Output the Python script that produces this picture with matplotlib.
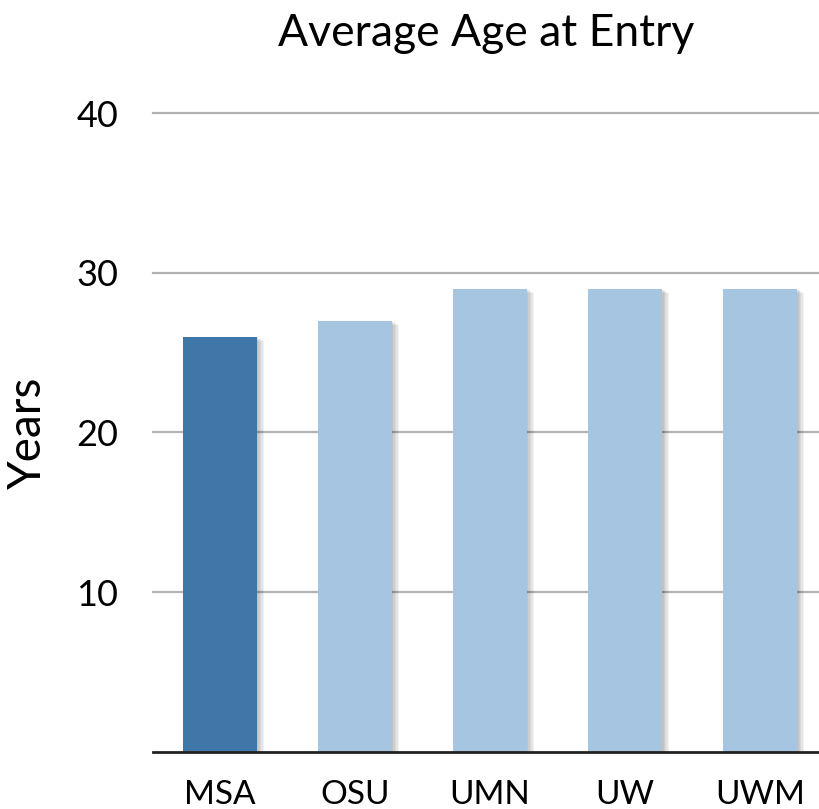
import matplotlib
matplotlib.use('Agg')
import matplotlib.pyplot as plt
import matplotlib.patheffects as pe

schools = ['MSA', 'OSU', 'UMN', 'UW', 'UWM']
avg_age = [26, 27, 29, 29, 29]
bar_colors = ['#3f78a8', '#a5c5e0', '#a5c5e0', '#a5c5e0', '#a5c5e0']
yticks = [10, 20, 30, 40]

plt.rcParams['font.family'] = ['Lato', 'DejaVu Sans']

fig = plt.figure(figsize=(8.19, 8.09), dpi=100)
ax = fig.add_axes([0.1868, 0.0705, 0.8132, 0.7898])

bars = ax.bar(range(len(schools)), avg_age, width=0.55, color=bar_colors, zorder=3)
# soft drop shadow made of a few faint offset copies
shadow = [pe.SimplePatchShadow(offset=(o, -o * 0.6), shadow_rgbFace='#000000', alpha=0.05)
          for o in (1, 2, 3, 4, 5)]
for b in bars:
    b.set_path_effects(shadow + [pe.Normal()])

ax.set_xlim(-0.496, 4.437)
ax.set_ylim(0, 40)
ax.set_yticks(yticks)
ax.set_yticklabels([str(v) for v in yticks], fontsize=26)
ax.set_xticks(range(len(schools)))
ax.set_xticklabels(schools, fontsize=24)
ax.tick_params(length=0)
ax.tick_params(axis='x', pad=20)
ax.tick_params(axis='y', pad=25)

for v in yticks:
    ax.axhline(v, color='#b3b3b3', lw=1.6, zorder=1, clip_on=False)

for s in ['top', 'right', 'left']:
    ax.spines[s].set_visible(False)
ax.spines['bottom'].set_linewidth(2)
ax.spines['bottom'].set_color('#222222')
ax.spines['bottom'].set_zorder(4)

ax.set_ylabel('Years', fontsize=33, labelpad=20)
ax.set_title('Average Age at Entry', fontsize=32, pad=48)

fig.savefig('out.png', dpi=100)
